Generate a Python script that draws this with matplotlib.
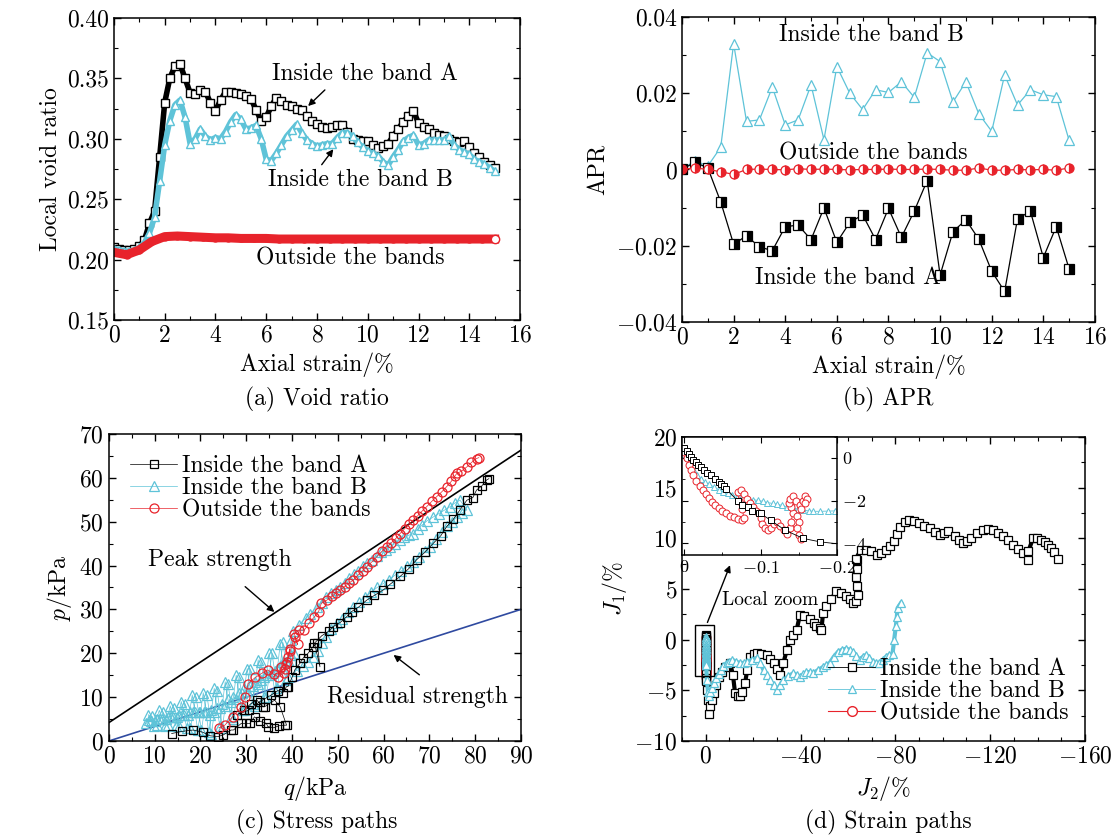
import numpy as np
import matplotlib
matplotlib.use('Agg')
import matplotlib.pyplot as plt
from matplotlib.patches import Rectangle
from matplotlib.ticker import MultipleLocator

plt.rcParams['font.family'] = 'serif'
plt.rcParams['font.serif'] = ['cmr10']
plt.rcParams['mathtext.fontset'] = 'cm'
plt.rcParams['axes.formatter.use_mathtext'] = True
plt.rcParams['font.size'] = 17
plt.rcParams['axes.linewidth'] = 1.1

CYAN = '#5ec3d8'
RED = '#e8232b'
BLUE = '#2f4aa0'
FS = 17

# ---------------- (a) void ratio ----------------
strain_a = np.arange(0, 15.01, 0.2)
void_A = [0.210, 0.209, 0.208, 0.208, 0.209, 0.211, 0.216, 0.230, 0.240, 0.285,
          0.330, 0.350, 0.360, 0.362, 0.350, 0.338, 0.337, 0.340, 0.339, 0.330,
          0.323, 0.332, 0.339, 0.339, 0.338, 0.337, 0.335, 0.333, 0.324, 0.315,
          0.318, 0.327, 0.334, 0.331, 0.328, 0.327, 0.325, 0.324, 0.319, 0.315,
          0.312, 0.310, 0.309, 0.310, 0.311, 0.311, 0.306, 0.300, 0.299, 0.298,
          0.298, 0.295, 0.292, 0.294, 0.296, 0.302, 0.308, 0.314, 0.319, 0.323,
          0.313, 0.310, 0.308, 0.305, 0.303, 0.302, 0.300, 0.298, 0.297, 0.298,
          0.293, 0.288, 0.285, 0.281, 0.278, 0.276]
void_B = [0.209, 0.208, 0.207, 0.207, 0.208, 0.210, 0.214, 0.222, 0.235, 0.265,
          0.295, 0.315, 0.328, 0.332, 0.318, 0.296, 0.300, 0.308, 0.302, 0.299,
          0.301, 0.300, 0.306, 0.314, 0.320, 0.316, 0.308, 0.309, 0.311, 0.300,
          0.283, 0.282, 0.288, 0.295, 0.302, 0.307, 0.312, 0.305, 0.299, 0.296,
          0.294, 0.295, 0.296, 0.296, 0.301, 0.305, 0.305, 0.302, 0.297, 0.293,
          0.290, 0.288, 0.286, 0.281, 0.278, 0.285, 0.291, 0.298, 0.301, 0.303,
          0.295, 0.296, 0.299, 0.299, 0.299, 0.299, 0.302, 0.295, 0.291, 0.289,
          0.287, 0.283, 0.281, 0.279, 0.276, 0.273]
strain_red = np.arange(0, 15.01, 0.5)
void_out = [0.206, 0.204, 0.208, 0.215, 0.219, 0.2195, 0.219, 0.2185, 0.218, 0.218,
            0.2175, 0.2175, 0.2175, 0.217, 0.217, 0.217, 0.217, 0.217, 0.217, 0.217,
            0.217, 0.217, 0.217, 0.217, 0.217, 0.217, 0.217, 0.217, 0.217, 0.217,
            0.217]
a_yticks = [0.15, 0.20, 0.25, 0.30, 0.35, 0.40]
a_ylabels = ['0.15', '0.20', '0.25', '0.30', '0.35', '0.40']

# ---------------- (b) APR ----------------
strain_b = np.arange(0, 15.01, 0.5)
apr_B = [0.0, 0.0023, 0.0009, 0.0058, 0.033, 0.0126, 0.013, 0.0216, 0.0117, 0.013,
         0.0222, 0.0078, 0.027, 0.020, 0.0157, 0.0209, 0.0202, 0.023, 0.0189, 0.0306,
         0.0283, 0.0177, 0.023, 0.0146, 0.0100, 0.0248, 0.0169, 0.0209, 0.0196, 0.0191,
         0.0076]
apr_A = [0.0, 0.0019, 0.0004, -0.0085, -0.0196, -0.0174, -0.0203, -0.0213, -0.015, -0.0146,
         -0.0184, -0.0101, -0.0191, -0.0139, -0.0119, -0.0184, -0.0102, -0.0178, -0.0109, -0.0029,
         -0.0277, -0.0163, -0.0132, -0.0183, -0.0267, -0.032, -0.0129, -0.011, -0.0231, -0.015,
         -0.0261]
apr_out = [0.0, 0.0004, 0.0, -0.0006, -0.0013, 0.0, 0.0001, 0.0, -0.0001, 0.0002,
           0.0, 0.0001, 0.0, -0.0001, 0.0, 0.0, 0.0001, 0.0, 0.0, 0.0001,
           0.0, -0.0002, -0.0002, 0.0004, -0.0002, -0.0002, 0.0, -0.0001, 0.0, -0.0002,
           0.0004]
b_yticks = [-0.04, -0.02, 0.0, 0.02, 0.04]
b_ylabels = ['$-0.04$', '$-0.02$', '0', '0.02', '0.04']

# ---------------- (c) stress paths ----------------
q_A = [13.7, 16.0, 18.4, 20.5, 22.0, 23.8, 25.0, 26.7, 27.2, 28.9,
       30.0, 30.8, 31.8, 33.0, 34.4, 34.7, 36.0, 37.2, 38.4, 38.8,
       37.4, 36.2, 34.0, 33.7, 32.3, 31.0, 29.5, 28.0, 30.5, 33.0,
       35.5, 36.9, 38.0, 38.8, 39.1, 40.0, 40.6, 41.7, 42.5, 43.5,
       44.6, 45.5, 46.1, 44.9, 46.5, 48.0, 49.0, 50.5, 51.9, 53.0,
       54.5, 56.3, 58.0, 59.9, 61.5, 63.6, 65.5, 67.2, 69.0, 70.9,
       72.5, 73.8, 75.2, 76.7, 78.2, 79.5, 80.3, 81.5, 82.5, 83.0]
p_A = [1.7, 2.2, 2.5, 2.0, 1.2, 1.0, 1.4, 2.5, 2.5, 4.0,
       4.0, 4.0, 5.5, 4.5, 4.0, 3.3, 3.0, 3.5, 3.6, 3.6,
       7.8, 9.3, 7.8, 7.8, 9.3, 8.5, 7.0, 6.0, 7.0, 9.0,
       10.5, 11.5, 11.0, 12.4, 12.4, 14.5, 16.2, 17.7, 19.0, 20.0,
       21.5, 22.3, 16.9, 22.3, 24.0, 25.0, 26.1, 27.0, 28.3, 29.5,
       30.5, 32.1, 33.2, 34.4, 35.8, 37.5, 39.3, 41.3, 43.0, 45.1,
       46.8, 48.9, 50.5, 52.7, 54.9, 55.5, 57.2, 58.2, 59.5, 59.8]
q_B = [8.2, 8.8, 9.4, 10.0, 10.6, 11.2, 11.8, 12.4, 13.0, 13.6,
       14.2, 14.8, 15.4, 16.0, 16.6, 17.2, 17.8, 18.4, 19.0, 19.6,
       20.2, 20.8, 21.4, 22.0, 22.4, 23.0, 23.6, 24.2, 24.8, 25.4,
       26.0, 26.6, 27.2, 27.8, 28.4, 29.0, 29.6, 30.2, 30.8, 31.4,
       32.0, 32.6, 33.2, 33.8, 34.4, 35.0, 35.6, 36.2, 36.8, 37.4,
       38.0, 38.6, 39.2, 39.8, 40.3, 41.5, 43.0, 44.0, 45.4, 46.5,
       47.5, 48.5, 49.5, 50.5, 51.5, 52.5, 53.5, 54.5, 55.5, 56.3,
       57.5, 58.5, 59.5, 60.5, 61.4, 62.5, 63.5, 64.5, 65.5, 66.5,
       67.5, 68.5, 69.5, 70.9, 72.0, 73.2, 74.5, 75.5, 76.7, 78.2,
       77.2, 76.0, 75.0, 73.8, 72.8, 71.5, 70.1, 69.0, 67.8, 66.5,
       65.2, 63.8, 62.5, 61.2, 59.8, 58.6, 57.3, 56.0, 54.7, 53.4,
       52.2, 51.0, 49.8, 48.6, 47.5, 46.6, 45.6, 44.6, 43.5, 42.3,
       41.0, 40.4, 39.8, 39.2, 38.6, 38.0, 37.4, 36.8, 36.2, 35.6,
       35.0, 34.4, 33.8, 33.2, 32.6, 32.0, 31.4, 30.8, 30.2, 29.6,
       29.0, 28.4, 27.8, 27.2, 26.6, 26.0, 25.4, 24.8, 24.2, 23.6,
       23.0, 22.4, 21.8, 21.2, 20.6, 20.0, 19.4, 18.8, 18.2, 17.6,
       17.0, 16.4, 15.8, 15.2, 14.6, 14.0, 13.4, 12.8, 12.2, 11.6,
       11.0, 10.4, 9.8, 9.2, 8.6]
p_B = [4.0, 4.8, 5.6, 4.6, 3.6, 5.0, 6.5, 5.0, 3.6, 5.5,
       7.5, 5.5, 3.5, 6.0, 8.5, 6.0, 3.0, 6.5, 10.0, 6.5,
       2.5, 6.5, 10.5, 6.0, 1.5, 6.5, 11.5, 7.5, 3.0, 8.0,
       13.0, 9.0, 5.0, 9.5, 14.5, 11.0, 7.0, 11.5, 16.5, 12.5,
       8.0, 13.0, 18.0, 14.5, 10.0, 15.0, 20.0, 16.0, 12.0, 17.0,
       22.5, 18.0, 14.5, 19.5, 25.0, 26.5, 28.0, 29.0, 30.6, 31.5,
       32.8, 33.8, 34.5, 35.2, 36.0, 37.2, 38.0, 38.8, 39.8, 40.5,
       41.3, 42.2, 43.0, 43.6, 44.3, 45.0, 45.8, 46.4, 46.9, 47.3,
       48.3, 49.3, 50.2, 51.1, 51.8, 52.6, 53.4, 54.2, 54.9, 52.7,
       52.0, 51.0, 50.0, 48.9, 47.7, 46.0, 44.3, 43.2, 42.0, 40.7,
       39.8, 38.7, 37.8, 36.8, 35.8, 35.0, 34.0, 32.8, 31.6, 30.6,
       29.3, 27.8, 26.8, 25.5, 23.8, 22.3, 20.5, 19.2, 18.0, 17.0,
       16.0, 20.0, 23.0, 18.5, 14.0, 18.0, 22.0, 16.5, 11.5, 15.5,
       20.0, 15.0, 10.0, 14.0, 18.5, 13.5, 8.5, 12.5, 16.5, 12.0,
       7.0, 11.0, 15.0, 10.0, 5.5, 9.5, 13.5, 8.5, 3.5, 7.5,
       12.0, 7.0, 2.0, 6.5, 11.0, 6.5, 2.5, 6.5, 10.5, 6.5,
       3.0, 6.0, 9.0, 6.0, 3.5, 5.5, 8.0, 5.5, 3.5, 5.0,
       7.0, 5.0, 3.5, 4.5, 6.0]
q_out = [24.0, 25.3, 27.0, 28.9, 29.8, 30.4, 32.0, 33.5, 34.7, 36.0,
         36.9, 37.6, 38.2, 38.6, 39.1, 39.5, 39.0, 38.4, 39.6, 40.6,
         41.2, 40.5, 41.5, 42.7, 43.8, 44.9, 45.8, 46.4, 47.6, 48.7,
         49.6, 50.5, 51.5, 52.4, 53.4, 54.4, 55.4, 56.3, 57.4, 58.5,
         59.6, 60.7, 61.7, 62.7, 63.6, 64.6, 65.6, 66.5, 67.5, 68.5,
         69.4, 70.5, 71.6, 72.7, 73.8, 74.8, 75.5, 76.0, 77.0, 78.2,
         79.2, 80.3, 80.8]
p_out = [3.0, 3.6, 5.5, 7.8, 10.0, 13.1, 14.5, 15.5, 16.2, 15.2,
         14.7, 16.9, 15.5, 17.5, 19.2, 21.0, 18.0, 16.5, 20.5, 23.8,
         22.0, 24.5, 25.3, 25.3, 27.0, 28.3, 29.5, 31.4, 32.1, 33.0,
         33.8, 34.4, 35.2, 36.0, 36.7, 37.8, 38.8, 39.7, 40.8, 42.0,
         43.2, 44.3, 45.2, 46.2, 47.3, 48.4, 49.4, 50.4, 51.4, 52.5,
         53.4, 54.6, 55.7, 56.8, 58.0, 59.2, 60.3, 61.0, 61.5, 62.5,
         63.5, 64.4, 64.6]
peak_q, peak_p = [0, 90], [4.2, 66.3]
resid_q, resid_p = [0, 90], [0, 30]

# ---------------- (d) strain paths ----------------
# local zoom part (first part of each path)
J2_A_zoom = [0.0, -0.003, -0.006, -0.009, -0.012, -0.015, -0.018, -0.022, -0.026, -0.030,
             -0.035, -0.040, -0.045, -0.048, -0.052, -0.055, -0.070, -0.076, -0.083, -0.089,
             -0.098, -0.100, -0.113, -0.132, -0.156, -0.178, -0.205]
J1_A_zoom = [0.46, 0.35, 0.22, 0.06, -0.08, -0.18, -0.30, -0.41, -0.55, -0.68,
             -0.80, -0.98, -1.12, -1.19, -1.30, -1.43, -2.02, -2.2, -2.29, -2.5,
             -2.56, -2.6, -2.92, -3.39, -3.78, -3.94, -4.05]
J2_B_zoom = [0.0, -0.003, -0.006, -0.009, -0.013, -0.017, -0.022, -0.027, -0.032, -0.039,
             -0.045, -0.051, -0.057, -0.063, -0.070, -0.077, -0.083, -0.090, -0.097, -0.103,
             -0.109, -0.116, -0.122, -0.128, -0.135, -0.142, -0.149, -0.156, -0.163, -0.169,
             -0.178, -0.188, -0.198]
J1_B_zoom = [0.22, 0.05, -0.12, -0.41, -0.60, -0.78, -0.96, -1.10, -1.22, -1.35,
             -1.48, -1.58, -1.66, -1.74, -1.80, -1.85, -1.90, -1.95, -1.99, -2.03,
             -2.09, -2.13, -2.17, -2.22, -2.29, -2.34, -2.40, -2.45, -2.48, -2.50,
             -2.50, -2.49, -2.48]
J2_out = [0.0, -0.003, -0.006, -0.009, -0.012, -0.016, -0.020, -0.024, -0.028, -0.032,
          -0.036, -0.040, -0.045, -0.050, -0.055, -0.060, -0.065, -0.070, -0.075, -0.078,
          -0.076, -0.072, -0.070, -0.074, -0.078, -0.082, -0.086, -0.090, -0.094, -0.098,
          -0.100, -0.102, -0.106, -0.110, -0.114, -0.118, -0.122, -0.126, -0.130, -0.134,
          -0.138, -0.140, -0.142, -0.140, -0.137, -0.139, -0.143, -0.147, -0.151, -0.155,
          -0.158, -0.161, -0.158, -0.153, -0.148, -0.150, -0.148, -0.150, -0.153]
J1_out = [0.30, 0.0, -0.30, -0.55, -0.80, -1.05, -1.30, -1.50, -1.70, -1.88,
          -2.05, -2.20, -2.35, -2.48, -2.60, -2.70, -2.78, -2.85, -2.92, -2.80,
          -2.40, -2.00, -1.60, -1.50, -1.70, -1.90, -2.10, -2.30, -2.50, -2.60,
          -2.80, -3.10, -3.30, -3.40, -3.30, -3.10, -3.00, -3.20, -3.40, -3.55,
          -3.30, -3.00, -2.60, -2.30, -2.10, -1.90, -1.80, -2.00, -2.20, -2.00,
          -1.80, -1.90, -2.10, -2.40, -2.70, -3.00, -3.30, -3.60, -3.80]
# rest of the paths (large strains)
J2_A = [-0.5, -1.0, -1.3, -1.8, -2.5, -3.3, -4.3, -5.4, -6.8, -8.2,
        -10.3, -11.5, -12.4, -13.5, -14.5, -15.5, -16.6, -17.5, -18.8, -20.2,
        -21.6, -23.5, -25.8, -27.2, -28.6, -30.0, -31.4, -32.8, -34.2, -35.5,
        -36.8, -38.4, -39.7, -41.5, -43.9, -45.5, -46.7, -48.0, -48.8, -49.5,
        -50.9, -53.0, -55.1, -57.0, -59.3, -60.8, -62.0, -63.2, -64.2, -64.0,
        -63.5, -63.8, -64.0, -63.3, -65.4, -67.5, -69.6, -72.4, -74.0, -75.9,
        -77.8, -79.4, -80.8, -82.1, -84.0, -85.6, -87.7, -89.8, -92.2, -94.7,
        -96.8, -98.9, -100.6, -102.4, -105.2, -107.0, -108.7, -110.3, -112.1, -114.5,
        -117.0, -119.0, -121.2, -123.3, -125.4, -127.5, -129.6, -131.7, -133.8, -135.9,
        -136.1, -138.0, -139.8, -141.5, -143.0, -144.3, -145.7, -147.1, -148.5]
J1_A = [-5.0, -6.0, -7.3, -6.5, -6.0, -5.3, -4.5, -3.7, -3.2, -2.7,
        -2.3, -3.5, -5.3, -5.6, -5.6, -5.2, -4.3, -3.0, -1.7, -1.4,
        -1.3, -1.4, -1.5, -1.9, -2.3, -2.9, -3.5, -2.3, -1.0, 0.0,
        0.5, 1.0, 2.4, 2.3, 2.0, 1.6, 1.3, 1.1, 1.0, 2.6,
        3.3, 4.0, 4.8, 4.6, 4.3, 4.0, 3.6, 3.8, 4.4, 5.3,
        6.2, 7.0, 7.9, 8.0, 8.8, 8.8, 8.7, 8.4, 8.5, 8.8,
        9.2, 9.7, 10.4, 11.1, 11.6, 11.8, 11.7, 11.5, 11.2, 11.0,
        10.6, 10.3, 10.5, 10.7, 10.2, 9.8, 9.5, 9.7, 10.0, 10.5,
        10.8, 10.9, 10.8, 10.5, 10.2, 9.8, 9.3, 8.9, 8.5, 7.9,
        8.7, 10.0, 10.0, 9.8, 9.6, 9.3, 9.0, 8.6, 8.0]
J2_B = [-0.5, -1.0, -1.4, -2.0, -2.7, -3.5, -4.5, -5.4, -6.3, -7.5,
        -8.8, -10.0, -11.2, -12.9, -14.6, -16.0, -17.4, -19.5, -21.6, -23.0,
        -24.4, -25.8, -27.2, -28.6, -30.0, -31.4, -32.8, -34.9, -37.0, -38.4,
        -39.8, -41.2, -42.5, -43.9, -45.3, -47.4, -49.5, -50.9, -52.3, -54.0,
        -55.8, -57.5, -59.3, -60.7, -62.1, -63.5, -64.9, -66.3, -67.7, -69.0,
        -70.4, -71.8, -73.2, -74.6, -76.0, -77.4, -78.8, -79.5, -80.2, -80.6,
        -80.9, -82.3]
J1_B = [-4.0, -5.2, -5.6, -5.2, -4.8, -4.3, -3.8, -3.4, -3.0, -2.6,
        -2.3, -2.2, -2.0, -2.2, -2.3, -2.3, -2.2, -2.0, -1.8, -2.3,
        -3.0, -3.5, -4.0, -4.5, -5.0, -4.5, -4.0, -3.6, -3.3, -3.5,
        -3.7, -3.4, -3.2, -3.2, -3.3, -3.0, -2.7, -2.5, -2.3, -1.7,
        -1.2, -1.0, -0.9, -1.0, -1.2, -1.6, -2.0, -1.7, -1.5, -1.8,
        -2.2, -2.3, -2.3, -2.0, -1.7, -1.5, -1.4, 0.0, 1.3, 2.2,
        3.1, 3.6]
zoom_xticks = [0.0, -0.1, -0.2]
zoom_xlabels = ['0', '$-0.1$', '$-0.2$']
zoom_yticks = [0, -2, -4]
zoom_ylabels = ['0', '$-2$', '$-4$']

names = ['Inside the band A', 'Inside the band B', 'Outside the bands']


def style_axes(ax):
    ax.tick_params(which='both', direction='in', top=True, right=True, labelsize=FS)
    ax.tick_params(which='major', length=5, width=1)
    ax.tick_params(which='minor', length=3, width=0.8)


fig = plt.figure(figsize=(11.14, 8.35), dpi=100)
arrow = dict(arrowstyle='-|>', color='k', lw=1.0, mutation_scale=10)

# (a)
ax = fig.add_axes([0.1023, 0.6168, 0.3645, 0.3617])
ax.plot(strain_a, void_A, '-', color='k', lw=4)
ax.plot(strain_a, void_A, 'none', marker='s', ms=6, mfc='white', mec='k', mew=1.0)
ax.plot(strain_a, void_B, '-', color=CYAN, lw=4)
ax.plot(strain_a, void_B, 'none', marker='^', ms=6, mfc='white', mec=CYAN, mew=1.0)
ax.plot(strain_red, void_out, '-', color=RED, lw=6.5, marker='o', ms=5, mfc=RED, mec=RED)
ax.plot(strain_red[-1], void_out[-1], 'o', ms=6, mfc='white', mec=RED, mew=1)
ax.set_xlim(0, 16)
ax.set_ylim(0.15, 0.40)
ax.xaxis.set_major_locator(MultipleLocator(2))
ax.xaxis.set_minor_locator(MultipleLocator(1))
ax.set_yticks(a_yticks)
ax.set_yticklabels(a_ylabels)
ax.yaxis.set_minor_locator(MultipleLocator(0.025))
style_axes(ax)
ax.set_xlabel('Axial strain/%')
ax.set_ylabel('Local void ratio')
ax.text(6.23, 0.3536, 'Inside the band A', va='center', fontsize=FS)
ax.annotate('', xy=(7.57, 0.3255), xytext=(8.39, 0.342), arrowprops=arrow)
ax.text(6.07, 0.2659, 'Inside the band B', va='center', fontsize=FS)
ax.annotate('', xy=(8.71, 0.2932), xytext=(8.12, 0.2767), arrowprops=arrow)
ax.text(5.6, 0.2013, 'Outside the bands', va='center', fontsize=FS)

# (b)
ax = fig.add_axes([0.6122, 0.6144, 0.3707, 0.3653])
ax.plot(strain_b, apr_B, '-', color=CYAN, lw=0.9, marker='^', ms=7, mfc='white', mec=CYAN, mew=0.9)
ax.plot(strain_b, apr_A, '-', color='k', lw=0.9, marker='s', ms=6.5, fillstyle='right',
        mfc='k', markerfacecoloralt='white', mec='k', mew=0.9)
ax.plot(strain_b, apr_out, '-', color=RED, lw=0.9, marker='o', ms=6.5, fillstyle='right',
        mfc=RED, markerfacecoloralt='white', mec=RED, mew=0.9)
ax.set_xlim(0, 16)
ax.set_ylim(-0.04, 0.04)
ax.xaxis.set_major_locator(MultipleLocator(2))
ax.xaxis.set_minor_locator(MultipleLocator(1))
ax.set_yticks(b_yticks)
ax.set_yticklabels(b_ylabels)
ax.yaxis.set_minor_locator(MultipleLocator(0.01))
style_axes(ax)
ax.set_xlabel('Axial strain/%')
ax.set_ylabel('APR')
ax.text(7.33, 0.0353, 'Inside the band B', ha='center', va='center', fontsize=FS)
ax.text(7.42, 0.0043, 'Outside the bands', ha='center', va='center', fontsize=FS)
ax.text(6.43, -0.0285, 'Inside the band A', ha='center', va='center', fontsize=FS)

# (c)
ax = fig.add_axes([0.0978, 0.1126, 0.3698, 0.3677])
ax.plot(peak_q, peak_p, color='k', lw=1.2)
ax.plot(resid_q, resid_p, color=BLUE, lw=1.2)
hB, = ax.plot(q_B, p_B, '-', color=CYAN, lw=0.5, marker='^', ms=6.5, mfc='none', mec=CYAN, mew=0.9)
hA, = ax.plot(q_A, p_A, '-', color='k', lw=0.5, marker='s', ms=6, mfc='none', mec='k', mew=0.9)
hO, = ax.plot(q_out, p_out, '-', color=RED, lw=0.5, marker='o', ms=6.5, mfc='none', mec=RED, mew=0.9)
ax.set_xlim(0, 90)
ax.set_ylim(0, 70)
ax.xaxis.set_major_locator(MultipleLocator(10))
ax.xaxis.set_minor_locator(MultipleLocator(5))
ax.yaxis.set_major_locator(MultipleLocator(10))
ax.yaxis.set_minor_locator(MultipleLocator(5))
style_axes(ax)
ax.set_xlabel('$q$/kPa')
ax.set_ylabel('$p$/kPa')
ax.legend([hA, hB, hO], names, loc='upper left', frameon=False, fontsize=FS,
          handlelength=2.0, handletextpad=0.2, labelspacing=0.0, borderaxespad=0.5)
ax.text(8.5, 41.3, 'Peak strength', va='center', fontsize=FS)
ax.annotate('', xy=(36.6, 29.0), xytext=(29.3, 35.6), arrowprops=arrow)
ax.text(47.6, 10.1, 'Residual strength', va='center', fontsize=FS)
ax.annotate('', xy=(61.7, 20.0), xytext=(68.3, 14.7), arrowprops=arrow)

# (d)
ax = fig.add_axes([0.6122, 0.1126, 0.3618, 0.3641])
ax.plot(J2_out, J1_out, '-', color=RED, lw=0.6, marker='o', ms=6, mfc='none', mec=RED)
ax.plot(J2_A_zoom + J2_A, J1_A_zoom + J1_A, '-', color='k', lw=3)
hA, = ax.plot(J2_A_zoom + J2_A, J1_A_zoom + J1_A, '-', color='k', lw=0.6, marker='s', ms=5.5,
              mfc='white', mec='k', mew=0.9)
ax.plot(J2_B_zoom + J2_B, J1_B_zoom + J1_B, '-', color=CYAN, lw=3)
hB, = ax.plot(J2_B_zoom + J2_B, J1_B_zoom + J1_B, '-', color=CYAN, lw=0.6, marker='^', ms=6,
              mfc='white', mec=CYAN, mew=0.9)
hO, = ax.plot([], [], '-', color=RED, lw=0.8, marker='o', ms=7, mfc='white', mec=RED)
ax.set_xlim(10, -160)
ax.set_ylim(-10, 20)
ax.xaxis.set_major_locator(MultipleLocator(40))
ax.xaxis.set_minor_locator(MultipleLocator(10))
ax.yaxis.set_major_locator(MultipleLocator(5))
ax.yaxis.set_minor_locator(MultipleLocator(2.5))
style_axes(ax)
ax.set_xlabel('$J_2$/%')
ax.set_ylabel('$J_1$/%')
ax.add_patch(Rectangle((-3.7, -3.6), 8.2, 5.0, fill=False, ec='k', lw=1, zorder=5))
ax.annotate('', xy=(-10.7, 7.6), xytext=(-0.3, 1.44), arrowprops=arrow)
ax.text(-6.8, 3.9, 'Local zoom', va='center', fontsize=14)
ax.legend([hA, hB, hO], names, loc='lower right', frameon=False, fontsize=FS,
          handlelength=2.0, handletextpad=0.2, labelspacing=0.0, borderaxespad=0.3)

# inset
axi = fig.add_axes([0.6122, 0.3353, 0.1391, 0.1413])
axi.plot(J2_B_zoom, J1_B_zoom, '-', color=CYAN, lw=0.6, marker='^', ms=5, mfc='white', mec=CYAN, mew=0.7)
axi.plot(J2_out, J1_out, '-', color=RED, lw=0.6, marker='o', ms=5, mfc='white', mec=RED, mew=0.7)
axi.plot(J2_A_zoom, J1_A_zoom, '-', color='k', lw=0.6, marker='s', ms=4.5, mfc='white', mec='k', mew=0.7)
axi.set_xlim(0.003, -0.2)
axi.set_ylim(-4.56, 1.0)
axi.set_xticks(zoom_xticks)
axi.set_xticklabels(zoom_xlabels)
axi.xaxis.set_minor_locator(MultipleLocator(0.05))
axi.set_yticks(zoom_yticks)
axi.set_yticklabels(zoom_ylabels)
axi.yaxis.set_minor_locator(MultipleLocator(1))
axi.tick_params(which='both', direction='in', top=True, left=True, right=True,
                labelleft=False, labelright=True, labelsize=13)
axi.tick_params(which='major', length=4)
axi.tick_params(which='minor', length=2)

fig.text(0.2846, 0.5222, '(a) Void ratio', ha='center', va='center', fontsize=FS)
fig.text(0.797, 0.5222, '(b) APR', ha='center', va='center', fontsize=FS)
fig.text(0.2846, 0.0156, '(c) Stress paths', ha='center', va='center', fontsize=FS)
fig.text(0.797, 0.0156, '(d) Strain paths', ha='center', va='center', fontsize=FS)

fig.savefig('out.png', dpi=100)
